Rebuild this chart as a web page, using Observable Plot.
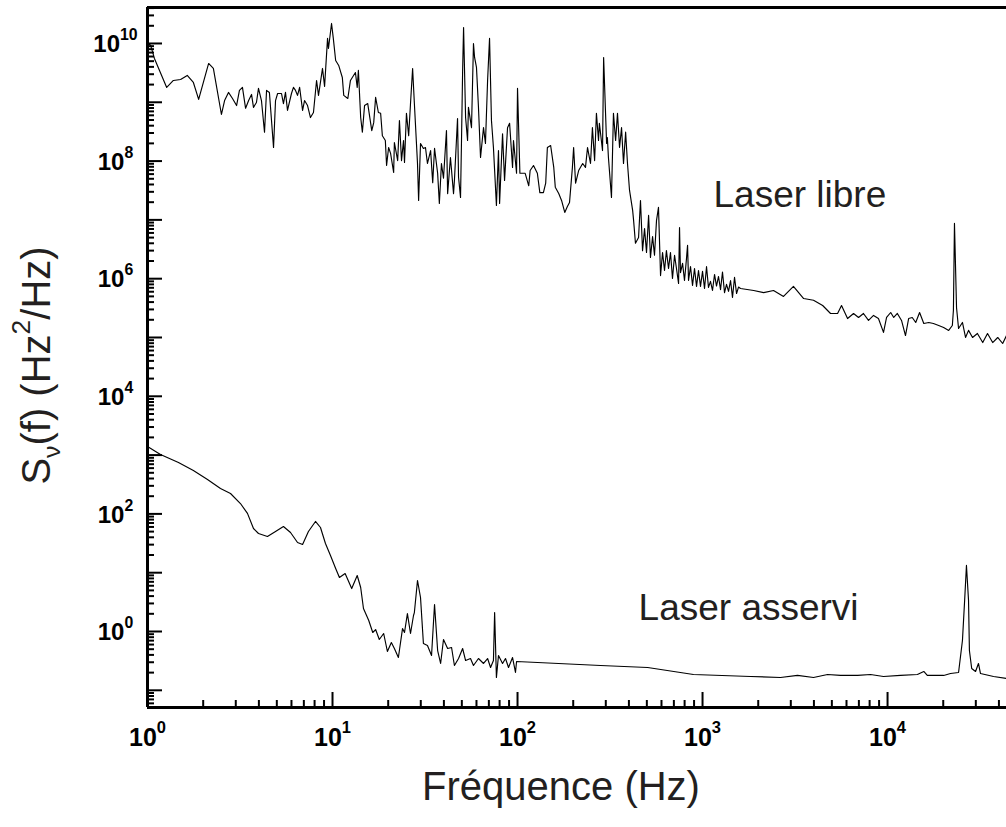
<!DOCTYPE html>
<html>
<head>
<meta charset="utf-8">
<script src="https://cdn.jsdelivr.net/npm/d3@7"></script>
<script src="https://cdn.jsdelivr.net/npm/@observablehq/plot@0.6"></script>
<style>
  html, body { margin: 0; padding: 0; background: #fff; }
  #chart { width: 1006px; height: 827px; }
</style>
</head>
<body>
<div id="chart"></div>
<script>
// ---- Data: "Laser libre" (free-running laser) ----
const libreFreq = [1.00,1.04,1.09,1.27,1.38,1.51,1.64,1.77,1.89,2.14,2.27,2.51,2.61,2.74,2.88,3.03,3.14,3.26,3.39,3.52,3.65,3.74,3.88,3.98,4.13,4.29,4.40,4.56,4.80,4.92,5.05,5.30,5.43,5.57,5.71,6.00,6.15,6.31,6.47,6.64,6.89,7.06,7.33,7.60,7.89,8.20,8.40,8.83,9.06,9.40,9.51,9.88,10.1,10.4,10.8,11.3,11.5,12.1,12.5,13.3,13.6,13.8,14.2,14.5,14.9,15.5,16.3,16.7,17.1,17.7,18.2,18.6,19.3,19.6,20.1,20.6,21.4,21.6,22.5,23.0,23.6,24.2,24.5,25.1,25.8,26.4,27.1,27.7,28.8,29.2,29.9,31.0,31.8,32.6,33.9,34.8,35.6,37.0,37.8,38.8,39.8,41.3,41.9,43.4,45.1,45.6,47.4,48.0,49.2,49.8,50.5,51.1,52.4,53.7,54.3,56.4,57.8,58.6,60.0,61.5,63.1,65.5,67.1,68.9,70.6,72.3,74.1,75.2,76.9,78.9,80.0,83.0,85.1,88.3,90.6,94.0,95.1,98.8,100,103,106,110,115,117,122,128,132,138,142,145,151,157,160,167,173,180,186,191,198,201,206,214,225,233,239,248,254,261,267,274,277,288,292,303,306,310,322,330,339,347,356,365,374,384,393,403,419,424,434,451,
  462,474,486,498,511,523,537,550,564,578,593,608,623,638,655,671,688,706,723,742,751,760,780,799,819,830,840,861,883,905,928,951,975,1000,1025,1051,1077,1104,1132,1161,1190,1220,1251,1282,1315,1348,1382,1417,1452,1489,1527,1565,1605,
  1890,2140,2420,2740,3100,3520,3980,4460,4920,5370,5640,6080,6550,6970,7410,7890,8400,8930,9510,9880,10400,10800,11300,11900,12500,13000,13600,14200,14900,15700,16700,17700,18900,20100,21400,22400,22700,23000,23600,24200,25400,26400,27400,28800,30600,32700,34700,37000,39400,41900,43950];
const libreS = [1.04e10,9.25e9,5.56e9,1.79e9,2.35e9,2.44e9,2.86e9,2.17e9,1.12e9,4.57e9,3.76e9,6.2e8,1.07e9,1.47e9,1.16e9,8.8e8,1.59e9,1.79e9,7.9e8,1.07e9,1.36e9,8.2e8,9.9e8,1.72e9,1.07e9,3.1e8,1.59e9,1.47e9,1.7e8,1.07e9,1.41e9,1.41e9,9.5e8,1.47e9,7.3e8,1.41e9,1.79e9,1.59e9,1.31e9,1.79e9,7.3e8,1.07e9,8.8e8,5.5e8,6.7e8,2.35e9,1.31e9,3.76e9,1.86e9,1.22e10,8.22e9,2.19e10,1.22e10,5.14e9,4.23e9,2.64e9,1.31e9,1.16e9,2.35e9,3.21e9,1.79e9,3.48e9,5.5e8,3.1e8,8.8e8,9.5e8,3.3e8,4.5e8,1.21e9,6.7e8,6.5e8,2.7e8,2.24e8,8.4e7,1.7e8,1.35e8,6.4e7,2.07e8,1.02e8,4.9e8,1.02e8,2.24e8,9.5e7,6.5e8,2.7e8,9.5e8,3.76e9,9.5e8,9.1e7,2.14e7,1.99e8,1.64e8,1.7e8,9.1e7,1.51e8,4.3e7,1.64e8,6.2e7,1.9e7,9.1e7,5.1e7,3.3e8,2.8e7,1.15e8,2.8e7,4.7e7,5.3e8,5.3e7,2.4e7,2.24e8,3.48e9,1.87e10,5.5e8,2.24e8,8.2e8,3.7e8,1.0e10,5.78e9,3.91e9,8.2e8,1.15e8,3.7e8,1.99e8,2.35e9,1.22e10,4.9e8,1.7e8,6.9e7,1.76e7,1.51e8,1.9e7,2.9e8,4.7e7,3.7e8,4.4e8,7.8e7,2.24e8,6.2e7,1.72e9,6.2e7,6.2e7,6.2e7,3.8e7,6.9e7,8.4e7,6.2e7,2.9e7,2.9e7,4.2e7,1.7e8,1.84e8,7.8e7,3.6e7,2.8e7,2.14e7,1.34e7,1.69e7,1.98e7,7.8e7,1.7e8,4.2e7,6.9e7,9.1e7,7.8e7,1.7e8,9.1e7,3.7e8,1.02e8,6.5e8,2.24e8,4.4e8,1.51e8,5.78e9,1.99e8,2.5e8,1.15e8,2.4e7,6.5e8,2.24e8,6.5e8,1.7e8,3.7e8,9.1e7,3.1e8,9.1e7,3.2e7,1.45e7,9.8e6,4.0e6,5.0e6,
  2.14e7,3.0e6,7.1e6,2.79e6,1.19e7,2.3e6,5.2e6,2.5e6,9.8e6,1.63e7,1.13e6,2.79e6,1.38e6,3.0e6,1.49e6,2.79e6,1.01e6,2.5e6,1.49e6,8.3e5,7.4e6,1.27e6,1.82e6,9.3e5,2.21e6,3.7e6,9.3e5,1.61e6,7.7e5,1.49e6,7.4e5,1.38e6,7.4e5,1.33e6,6.8e5,1.6e6,7.1e5,9.0e5,6.3e5,1.18e6,7.5e5,1.09e6,6.5e5,1.3e6,5.8e5,8.0e5,6.1e5,9.3e5,4.8e5,1.05e6,5.6e5,7.2e5,6.8e5,
  6.3e5,5.8e5,6.3e5,5.0e5,7.4e5,4.6e5,4.3e5,3.5e5,2.56e5,2.56e5,3.5e5,2.1e5,2.56e5,2.19e5,2.56e5,1.95e5,2.37e5,2.1e5,1.22e5,2.19e5,2.66e5,2.19e5,2.56e5,1.95e5,1.08e5,2.1e5,2.19e5,1.8e5,2.66e5,1.73e5,1.8e5,1.73e5,1.6e5,1.48e5,1.32e5,1.6e5,2.9e5,8.7e6,3.2e5,1.42e5,1.8e5,1.0e5,1.32e5,1.0e5,1.17e5,8.2e4,1.17e5,8.2e4,1.0e5,7.9e4,1.08e5];

// ---- Data: "Laser asservi" (locked laser) ----
const asserviFreq = [1.00,1.175,1.47,1.77,2.11,2.48,2.81,3.18,3.47,3.74,3.98,4.45,4.92,5.43,5.93,6.47,6.89,7.41,8.09,8.61,9.16,9.75,10.4,10.9,11.7,12.7,13.6,14.2,14.7,15.7,16.5,17.1,17.9,18.9,19.8,20.8,21.6,22.7,23.9,24.5,25.4,26.4,27.4,27.7,28.8,29.9,31.0,32.6,34.3,35.6,37.0,38.4,39.8,41.9,44.0,45.6,48.0,50.5,52.4,55.7,57.8,61.5,65.5,68.9,71.5,74.1,75.2,76.9,78.9,83.0,86.1,89.4,94.0,97.5,98.8,281,505,893,1820,2640,3260,3980,4740,5570,6890,8090,9510,11750,14500,15700,16400,20100,21900,24200,25400,26100,26700,27400,27700,28500,29900,31000,31800,37400,43950];
const asserviS = [1400,1020,748,547,385,270,222,150,102,56.5,46.4,41.3,50.2,61.1,48.3,32.6,30.2,50.2,74.3,58.7,31.4,19.6,11.8,8.28,9.69,5.38,8.96,5.60,2.46,1.54,0.962,1.08,0.731,0.925,0.457,0.650,0.514,0.361,1.12,0.962,2.02,0.925,1.87,2.10,7.37,3.79,0.625,0.578,0.391,2.88,0.475,0.286,0.731,0.514,0.535,0.264,0.347,0.514,0.321,0.347,0.264,0.347,0.286,0.347,0.244,0.321,2.10,0.165,0.391,0.286,0.347,0.244,0.361,0.201,0.309,0.264,0.244,0.186,0.172,0.165,0.179,0.165,0.186,0.179,0.179,0.186,0.172,0.179,0.186,0.209,0.179,0.179,0.193,0.201,0.703,3.37,13.3,3.37,0.475,0.235,0.209,0.286,0.193,0.172,0.159];

// ---- Axes / labels ----
const xMajorTicks = [1, 10, 100, 1000, 10000];
const xTickLabels = [1, 10, 100, 1000, 10000];
const yMajorTicks = [0.1, 1, 10, 100, 1e3, 1e4, 1e5, 1e6, 1e7, 1e8, 1e9, 1e10];
const yTickLabels = [1, 1e2, 1e4, 1e6, 1e8, 1e10];
const minorMultipliers = [2, 3, 4, 5, 6, 7, 8, 9];
const seriesNames = ["Laser libre", "Laser asservi"];
const xTitle = "Fréquence (Hz)";
const yTitle = "S_{ν}(f) (Hz^{2}/Hz)";

const xDomain = [1, 43950];
const yDomain = [0.051, 4.09e10];

const libre = libreFreq.map((f, i) => ({f, s: libreS[i]})).filter(d => d.s != null);
const asservi = asserviFreq.map((f, i) => ({f, s: asserviS[i]})).filter(d => d.s != null);

function minorTicks(lo, hi) {
  const out = [];
  for (let e = -3; e <= 11; e++) for (const m of minorMultipliers) {
    const v = m * Math.pow(10, e);
    if (v > lo && v < hi) out.push(v);
  }
  return out;
}
const xMinorTicks = minorTicks(xDomain[0], xDomain[1]);
const yMinorTicks = minorTicks(yDomain[0], yDomain[1]);

const FONT = "'Liberation Sans', Arial, Helvetica, sans-serif";
const pow10Label = d => `10^{${Math.round(Math.log10(d))}}`;

const chart = Plot.plot({
  width: 1006,
  height: 827,
  marginLeft: 147,
  marginRight: 0,
  marginTop: 7,
  marginBottom: 120,
  x: {type: "log", domain: xDomain, range: [147, 1006], axis: null},
  y: {type: "log", domain: yDomain, range: [707, 7], axis: null},
  style: {fontFamily: FONT, background: "#ffffff", color: "#000", overflow: "visible"},
  marks: [
    Plot.line(libre, {x: "f", y: "s", stroke: "#000", strokeWidth: 1.15}),
    Plot.line(asservi, {x: "f", y: "s", stroke: "#000", strokeWidth: 1.15}),
    Plot.axisX(xMinorTicks, {anchor: "bottom", tickSize: -7, strokeWidth: 2, tickFormat: () => "", label: null}),
    Plot.axisX(xMajorTicks, {anchor: "bottom", tickSize: -15, strokeWidth: 2, tickFormat: () => "", label: null}),
    Plot.axisY(yMinorTicks, {anchor: "left", tickSize: -7, strokeWidth: 2, tickFormat: () => "", label: null}),
    Plot.axisY(yMajorTicks, {anchor: "left", tickSize: -15, strokeWidth: 2, tickFormat: () => "", label: null}),
    Plot.ruleX([xDomain[0]], {stroke: "#000", strokeWidth: 3}),
    Plot.ruleY([yDomain[0]], {stroke: "#000", strokeWidth: 3}),
    Plot.ruleY([yDomain[1]], {stroke: "#000", strokeWidth: 3}),
    Plot.text(xTickLabels, {x: d => d, y: yDomain[0], text: pow10Label, dy: 30, fontSize: 25, fontWeight: "bold", fill: "#000", textAnchor: "middle", lineAnchor: "middle"}),
    Plot.text(yTickLabels, {x: xDomain[0], y: d => d, text: pow10Label, dx: -32, dy: 1, fontSize: 24, fontWeight: "bold", fill: "#000", textAnchor: "middle", lineAnchor: "middle"}),
    Plot.text([seriesNames[0]], {x: 1146, y: 2.6e7, text: d => d, fontSize: 37, fill: "#231f20", textAnchor: "start", lineAnchor: "middle"}),
    Plot.text([seriesNames[1]], {x: 451, y: 2.46, text: d => d, fontSize: 37, fill: "#231f20", textAnchor: "start", lineAnchor: "middle"}),
    Plot.text([yTitle], {frameAnchor: "left", text: d => d, rotate: -90, dx: -110, dy: 8, fontSize: 40, fill: "#231f20", textAnchor: "middle", lineAnchor: "middle"}),
    Plot.text([xTitle], {frameAnchor: "bottom", text: d => d, dx: -16, dy: 80, fontSize: 40, fill: "#231f20", textAnchor: "middle", lineAnchor: "middle"})
  ]
});

// Rich text: ^{..} superscripts and _{..} subscripts as tspans
function richify(el) {
  const s = el.textContent;
  if (!/[\^_]\{/.test(s)) return;
  const parts = [];
  const re = /([\^_])\{([^}]*)\}/g;
  let last = 0, m;
  while ((m = re.exec(s))) {
    if (m.index > last) parts.push({t: s.slice(last, m.index), k: "n"});
    parts.push({t: m[2], k: m[1] === "^" ? "sup" : "sub"});
    last = re.lastIndex;
  }
  if (last < s.length) parts.push({t: s.slice(last), k: "n"});
  el.textContent = "";
  const NS = "http://www.w3.org/2000/svg";
  let shift = 0; // in base em, positive = raised
  for (const p of parts) {
    const ts = document.createElementNS(NS, "tspan");
    ts.textContent = p.t;
    if (p.k === "sup") {
      const size = 0.66, raise = 0.5;
      ts.setAttribute("font-size", size + "em");
      ts.setAttribute("dy", (-(raise - shift) / size).toFixed(3) + "em");
      shift = raise;
    } else if (p.k === "sub") {
      const size = 0.62, raise = -0.25;
      ts.setAttribute("font-size", size + "em");
      ts.setAttribute("dy", (-(raise - shift) / size).toFixed(3) + "em");
      shift = raise;
    } else {
      if (shift !== 0) ts.setAttribute("dy", shift.toFixed(3) + "em");
      shift = 0;
    }
    el.appendChild(ts);
  }
}
chart.querySelectorAll("text").forEach(richify);

document.getElementById("chart").appendChild(chart);
</script>
</body>
</html>
